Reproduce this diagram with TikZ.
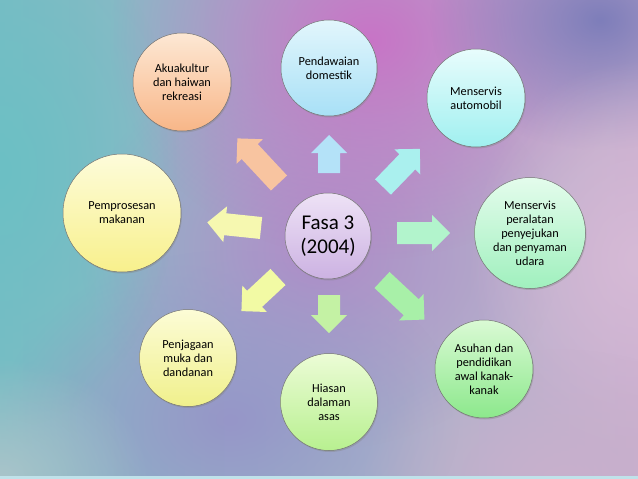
\documentclass[tikz,border=0pt]{standalone}
\usepackage{fontspec}
\setmainfont{Carlito}
\usetikzlibrary{shadows,fadings}
\tikzfading[name=blob, inner color=transparent!0, outer color=transparent!100]
\definecolor{bgA}{HTML}{7ABCC4}
\definecolor{bgM}{HTML}{B49CC8}
\definecolor{bgB}{HTML}{C8AECE}
\definecolor{blMag}{RGB}{200,116,198}
\definecolor{blTR}{RGB}{126,126,186}
\definecolor{blBL}{RGB}{150,150,200}
\definecolor{blTeal}{RGB}{108,192,196}
\definecolor{blR}{RGB}{214,186,214}
\definecolor{blGrey}{RGB}{170,196,202}
\definecolor{blBR}{RGB}{200,176,204}
\definecolor{blC}{RGB}{176,140,200}
\definecolor{strip}{RGB}{192,226,234}
\definecolor{arU}{RGB}{180,226,248}
\definecolor{arR}{RGB}{178,244,204}
\definecolor{arL}{RGB}{246,248,176}
\definecolor{arUL}{RGB}{248,196,160}
\definecolor{arUR}{RGB}{170,240,238}
\definecolor{arDR}{RGB}{168,240,168}
\definecolor{arD}{RGB}{196,242,164}
\definecolor{arDL}{RGB}{242,250,164}
\definecolor{akT}{RGB}{253,232,212}\definecolor{akB}{RGB}{248,182,136}
\definecolor{peT}{RGB}{226,246,252}\definecolor{peB}{RGB}{168,224,246}
\definecolor{auT}{RGB}{232,252,252}\definecolor{auB}{RGB}{160,240,240}
\definecolor{prT}{RGB}{228,252,236}\definecolor{prB}{RGB}{160,240,190}
\definecolor{asT}{RGB}{218,250,212}\definecolor{asB}{RGB}{140,232,140}
\definecolor{hiT}{RGB}{236,252,214}\definecolor{hiB}{RGB}{184,240,144}
\definecolor{pjT}{RGB}{252,252,214}\definecolor{pjB}{RGB}{240,240,140}
\definecolor{mpT}{RGB}{253,252,218}\definecolor{mpB}{RGB}{248,240,140}
\definecolor{faT}{RGB}{238,226,246}\definecolor{faB}{RGB}{204,178,226}
\newcommand\blockarr[5]{%
  \begin{scope}[shift={(#1,#2)},rotate=#3]
    \fill[#5] (0,11) -- (#4-18,11) -- (#4-18,18) -- (#4,0) -- (#4-18,-18) -- (#4-18,-11) -- (0,-11) -- cycle;
  \end{scope}}
\begin{document}
\begin{tikzpicture}[x=1pt,y=-1pt,
  bubble/.style={circle, draw=black!55, line width=0.5pt, align=center,
    font=\fontsize{12.3}{14}\selectfont, text=black, inner sep=0pt,
    drop shadow={shadow xshift=1pt, shadow yshift=-1.5pt, opacity=0.35}},
]
\useasboundingbox (0,0) rectangle (638,479);
% background
\shade[left color=bgA, middle color=bgM, right color=bgB] (0,0) rectangle (638,479);
\fill[blC, path fading=blob] (320,250) ellipse (240 and 200);
\fill[blMag, path fading=blob] (370,40) ellipse (260 and 220);
\fill[blTR, path fading=blob] (600,20) ellipse (170 and 130);
\fill[blBL, path fading=blob] (230,420) ellipse (230 and 170);
\fill[blTeal, path fading=blob] (0,170) ellipse (180 and 260);
\fill[blR, path fading=blob] (638,260) ellipse (170 and 200);
\fill[blGrey, path fading=blob] (0,479) ellipse (150 and 120);
\fill[blBR, path fading=blob] (560,479) ellipse (200 and 130);
\fill[strip] (0,476) rectangle (638,479);

% arrows
\blockarr{329}{173}{90}{38}{arU}
\blockarr{397}{233}{0}{53}{arR}
\blockarr{261}{228}{174}{54}{arL}
\blockarr{279}{183}{133}{61}{arUL}
\blockarr{383}{187}{46}{53}{arUR}
\blockarr{382}{280}{-43}{58}{arDR}
\blockarr{329}{295}{-90}{38}{arD}
\blockarr{278}{277}{223}{50}{arDL}

% circles
\node[bubble, minimum size=98pt, top color=akT, bottom color=akB] (akua) at (182,82) {Akuakultur\\dan haiwan\\rekreasi};
\node[bubble, minimum size=96pt, top color=peT, bottom color=peB] (pend) at (329,68) {Pendawaian\\domestik};
\node[bubble, minimum size=98pt, top color=auT, bottom color=auB] (auto) at (476,98) {Menservis\\automobil};
\node[bubble, minimum size=111pt, top color=prT, bottom color=prB] (pera) at (530,233) {Menservis\\peralatan\\penyejukan\\dan penyaman\\udara};
\node[bubble, minimum size=98pt, top color=asT, bottom color=asB] (asuh) at (484,369) {Asuhan dan\\pendidikan\\awal kanak-\\kanak};
\node[bubble, minimum size=97pt, top color=hiT, bottom color=hiB] (hias) at (329,402) {Hiasan\\dalaman\\asas};
\node[bubble, minimum size=97pt, top color=pjT, bottom color=pjB] (penj) at (188,358) {Penjagaan\\muka dan\\dandanan};
\node[bubble, minimum size=118pt, top color=mpT, bottom color=mpB] (memp) at (122,213) {Pemprosesan\\makanan};
\node[bubble, minimum size=86pt, font=\fontsize{21}{24}\selectfont, top color=faT, bottom color=faB] (fasa) at (328,236) {Fasa 3\\(2004)};
\end{tikzpicture}
\end{document}
